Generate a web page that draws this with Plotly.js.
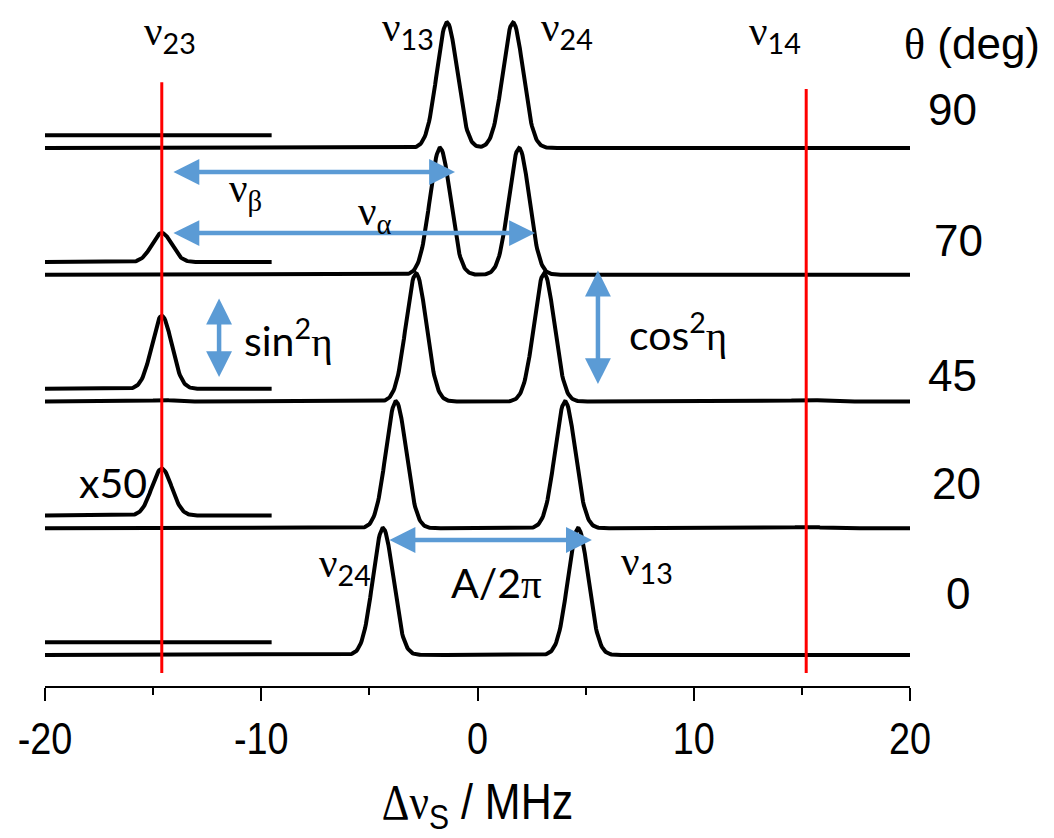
<!DOCTYPE html>
<html><head><meta charset="utf-8">
<script src="https://cdn.plot.ly/plotly-3.0.1.min.js"></script>
<style>html,body{margin:0;padding:0;background:#fff}#chart{width:1054px;height:838px}</style>
</head><body><div id="chart"></div>
<script>
// ---- data ----
const thetaLabels   = ['0', '20', '45', '70', '90'];          // θ (deg), bottom to top
const peakLow       = [-4.37, -3.77, -2.84, -1.73, -1.41];     // MHz
const peakHigh      = [4.65, 4.05, 3.08, 1.92, 1.64];          // MHz
const peakHeight    = [1.0, 1.0, 1.01, 1.0, 0.99];             // relative
const nu23X50Height = [0, 0.37, 0.575, 0.23, 0];               // ν23 peak, magnified x50
const nu14Height    = [0, 0.010, 0.012, 0.006, 0];             // ν14 tiny peak
const xTickVals     = [-20, -10, 0, 10, 20];
const xTickText     = ['-20', '-10', '0', '10', '20'];
const nu23Pos = -14.6;
const nu14Pos = 15.2;
const peakWidth = 0.47;
const satWidth = 0.46;
const magnification = 50;
const x50End = -9.5;
const x50Lift = 0.1;

// ---- build traces ----
function g(x, mu, s){ const d=(x-mu)/s; return Math.exp(-0.5*d*d); }
const grid = [];
for (let k=0; k<=1000; k++) grid.push(-20 + k*0.04);

const traces = [];
thetaLabels.forEach((t,i)=>{
  const ys = grid.map(x => i + peakHeight[i]*(g(x,peakLow[i],peakWidth)+g(x,peakHigh[i],peakWidth))
                       + nu23X50Height[i]/magnification*g(x,nu23Pos,satWidth)
                       + nu14Height[i]*g(x,nu14Pos,satWidth*1.6));
  traces.push({x:grid, y:ys, mode:'lines', line:{color:'#000', width:4}, hoverinfo:'skip'});
  const gx = grid.filter(x => x <= x50End+1e-9);
  const gy = gx.map(x => i + x50Lift + nu23X50Height[i]*g(x,nu23Pos,satWidth));
  traces.push({x:gx, y:gy, mode:'lines', line:{color:'#000', width:4}, hoverinfo:'skip'});
});
traces.push({x:[nu23Pos,nu23Pos], y:[-0.142,4.52], mode:'lines', line:{color:'#ff0000', width:3}, hoverinfo:'skip'});
traces.push({x:[nu14Pos,nu14Pos], y:[-0.142,4.466], mode:'lines', line:{color:'#ff0000', width:3}, hoverinfo:'skip'});

const serif = 'font-family:Liberation Serif';
const nu = s => `<span style="${serif}">ν</span><sub>${s}</sub>`;
const blue = '#5b9bd5';
function arrow(x1,y1,x2,y2){
  return {x:x2, y:y2, ax:x1, ay:y1, xref:'x', yref:'y', axref:'x', ayref:'y', text:'',
          showarrow:true, arrowside:'end+start', arrowhead:2, arrowsize:1.15, arrowwidth:4.5,
          arrowcolor:blue, standoff:0, startstandoff:0};
}
const lab = {family:'Lato, Liberation Sans, sans-serif', size:41, color:'#000'};
const ar  = {family:'Liberation Sans, Arial, sans-serif', size:44, color:'#000'};
function txt(text,x,y,font,xref){ return {text, x, y, xref:xref||'x', yref:'y', showarrow:false, font,
                                          xanchor:'center', yanchor:'middle'}; }

const annotations = [
  arrow(-14.13,3.811,-1.04,3.811),
  arrow(-14.13,3.329,2.66,3.329),
  arrow(-11.95,2.824,-11.95,2.193),
  arrow(5.57,3.045,5.57,2.138),
  arrow(-4.14,0.907,5.29,0.907),
  txt(nu('23'), -14.22, 4.90, lab),
  txt(nu('13'), -3.21, 4.93, lab),
  txt(nu('24'), 4.14, 4.93, lab),
  txt(nu('14'), 13.76, 4.90, lab),
  txt(`<span style="${serif}">ν</span><sub><span style="${serif}">β</span></sub>`, -10.75, 3.66, lab),
  txt(`<span style="${serif}">ν</span><sub><span style="${serif}">α</span></sub>`, -4.74, 3.48, lab),
  txt(`sin<sup>2</sup><span style="${serif}">η</span>`, -8.76, 2.50, lab),
  txt(`cos<sup>2</sup><span style="${serif}">η</span>`, 9.27, 2.55, lab),
  txt('x50', -16.86, 1.36, lab),
  txt(`A/2<span style="${serif}">π</span>`, 0.90, 0.57, lab),
  txt(nu('24'), -6.13, 0.70, lab),
  txt(nu('13'), 7.84, 0.72, lab),
  txt(`<span style="${serif}">θ</span> (deg)`, 1.0717, 4.82, ar, 'paper'),
  txt(thetaLabels[4], 1.0486, 4.308, ar, 'paper'),
  txt(thetaLabels[3], 1.0555, 3.274, ar, 'paper'),
  txt(thetaLabels[2], 1.0497, 2.209, ar, 'paper'),
  txt(thetaLabels[1], 1.0543, 1.357, ar, 'paper'),
  txt(thetaLabels[0], 1.0555, 0.489, ar, 'paper'),
];

const axFont = 'Liberation Sans Narrow, Arial Narrow, Liberation Sans, Arial, sans-serif';
const layout = {
  width:1054, height:838,
  margin:{l:45, r:144, t:0, b:152},
  paper_bgcolor:'#fff', plot_bgcolor:'#fff',
  showlegend:false,
  xaxis:{range:[-20,20], showgrid:false, zeroline:false, showline:true, linecolor:'#000', linewidth:2,
         ticks:'outside', ticklen:13, tickwidth:2, tickcolor:'#000',
         tickmode:'array', tickvals:xTickVals, ticktext:xTickText,
         minor:{tickmode:'array', tickvals:[-15,-5,5,15], ticks:'outside', ticklen:7, tickwidth:2, tickcolor:'#000', showgrid:false},
         tickfont:{family:axFont, size:44, color:'#000'},
         title:{text:`<span style="font-family:Liberation Serif">Δν</span><sub>S</sub> / MHz`, standoff:22,
                font:{family:axFont, size:50, color:'#000'}}},
  yaxis:{range:[-0.2446,5.168], visible:false, fixedrange:true},
  annotations
};
Plotly.newPlot('chart', traces, layout, {staticPlot:true, displayModeBar:false}).then(gd=>{
  // narrow the axis text horizontally, as in the reference
  gd.querySelectorAll('.xtick text, .g-xtitle text').forEach(t=>{
    const b = t.getBBox(); const cx = b.x + b.width/2, cy = b.y + b.height/2;
    const tr = t.getAttribute('transform') || '';
    t.setAttribute('transform', `${tr} translate(${cx},${cy}) scale(0.86,1) translate(${-cx},${-cy})`);
  });
});
</script></body></html>
